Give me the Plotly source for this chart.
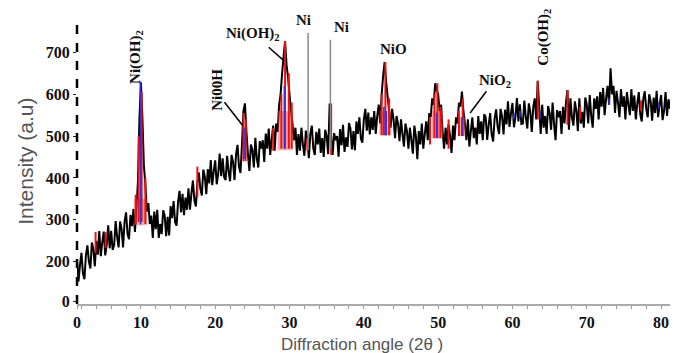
import plotly.graph_objects as go

# ---------------- data ----------------
x_start = 1.4
x_step = 0.2
intensity = [
    205, 153, 191, 221, 172, 158, 215, 239, 200, 184, 246, 230, 189, 250, 217, 273, 213, 246, 272, 215, 240, 287, 232, 274, 228,
    240, 297, 259, 234, 296, 278, 234, 295, 318, 266, 254, 312, 285, 326, 271, 330, 390, 540, 628, 545, 430, 385, 320, 340, 290,
    310, 257, 320, 278, 324, 257, 290, 266, 323, 310, 261, 307, 263, 333, 304, 345, 295, 286, 343, 369, 318, 362, 311, 353, 324,
    375, 324, 363, 394, 346, 332, 389, 413, 374, 358, 420, 403, 361, 421, 387, 443, 383, 416, 442, 385, 410, 458, 404, 447, 402,
    395, 453, 416, 392, 455, 438, 395, 456, 479, 427, 412, 480, 560, 578, 510, 458, 417, 480, 467, 425, 496, 446, 425, 488, 470,
    490, 438, 506, 470, 518, 455, 492, 525, 465, 530, 510, 575, 600, 650, 690, 727, 670, 640, 600, 560, 530, 490, 520, 455, 505,
    465, 520, 480, 453, 513, 493, 447, 505, 525, 470, 455, 510, 480, 518, 460, 495, 450, 515, 500, 457, 578, 498, 455, 507, 490,
    500, 451, 517, 478, 527, 462, 497, 474, 531, 518, 468, 512, 466, 535, 505, 545, 494, 484, 540, 565, 513, 556, 504, 545, 515,
    560, 505, 548, 575, 530, 600, 645, 677, 630, 595, 560, 520, 565, 540, 495, 548, 530, 488, 540, 505, 475, 530, 512, 470, 520,
    490, 458, 525, 500, 445, 512, 480, 530, 470, 505, 535, 490, 555, 545, 590, 575, 626, 610, 600, 560, 575, 510, 470, 520, 480,
    528, 500, 460, 525, 490, 545, 530, 580, 570, 606, 560, 530, 490, 540, 475, 512, 545, 495, 520, 480, 548, 505, 535, 490, 552,
    545, 491, 527, 555, 504, 487, 542, 564, 523, 505, 565, 547, 504, 563, 528, 583, 522, 554, 579, 521, 545, 591, 535, 576, 529,
    530, 585, 545, 518, 578, 558, 510, 570, 590, 540, 632, 570, 505, 575, 520, 548, 505, 572, 555, 515, 580, 528, 490, 562, 545,
    560, 505, 570, 530, 580, 610, 515, 590, 545, 525, 583, 560, 512, 590, 530, 558, 520, 592, 575, 530, 598, 548, 520, 590, 565,
    595, 540, 605, 570, 615, 550, 590, 620, 575, 662, 600, 620, 555, 608, 580, 545, 612, 570, 595, 540, 605, 575, 550, 612, 560,
    597, 540, 578, 605, 552, 535, 588, 607, 565, 545, 600, 582, 537, 592, 555, 608, 545, 575, 598, 538, 560, 605, 548, 588, 565,
]
angle = [x_start + x_step * i for i in range(len(intensity))]

# red peak sticks
red_x = [3.9, 5.25, 9.3, 9.7, 10.1, 10.6, 17.6, 23.8, 24.1, 27.8, 28.9, 29.4, 29.9, 30.3, 32.4,
         35.6, 42.4, 42.9, 43.4, 48.9, 49.5, 49.9, 50.3, 51.4, 52.8, 53.3, 63.4, 67.4, 69.1, 77.3]
red_base = [221, 233, 290, 295, 295, 290, 355, 440, 440, 465, 470, 470, 470, 470, 465,
            455, 502, 502, 502, 480, 495, 495, 495, 470, 500, 500, 540, 527, 540, 560]
red_top = [271, 271, 360, 500, 605, 400, 427, 555, 540, 520, 600, 727, 650, 580, 495,
           578, 600, 677, 590, 545, 600, 626, 570, 540, 560, 590, 632, 610, 570, 585]

# light red fills under main peaks
fill_x = [9.95, 29.4, 42.9, 49.9, 53.2]
fill_w = [1.7, 2.0, 1.6, 1.5, 1.0]
fill_base = [287, 466, 502, 495, 500]
fill_top = [350, 560, 560, 560, 545]

# blue sticks
blue_x = [9.95, 24.0, 29.3, 42.7, 43.0, 49.8, 53.2, 60.2, 61.0, 63.7, 73.0, 79.7]
blue_base = [289, 445, 470, 502, 502, 495, 500, 540, 545, 540, 575, 565]
blue_top = [630, 520, 620, 570, 560, 555, 545, 555, 560, 560, 590, 580]

# grey Ni reference lines
ni_x = [32.5, 35.5]
ni_base = [466, 470]
ni_top = [746, 730]

x_tickvals = [1.4, 10, 20, 30, 40, 50, 60, 70, 80]
x_ticktext = ["0", "10", "20", "30", "40", "50", "60", "70", "80"]
y_tickvals = [104.5, 200, 300, 400, 500, 600, 700]
y_ticktext = ["0", "200", "300", "400", "500", "600", "700"]


def sticks(xs, bases, tops):
    sx, sy = [], []
    for x, b, t in zip(xs, bases, tops):
        sx += [x, x, None]
        sy += [b, t, None]
    return sx, sy


def boxes(xs, ws, bases, tops):
    bx, by = [], []
    for x, w, b, t in zip(xs, ws, bases, tops):
        bx += [x - w / 2, x + w / 2, x + w / 2, x - w / 2, x - w / 2, None]
        by += [b, b, t, t, b, None]
    return bx, by


# ---------------- figure ----------------
fig = go.Figure()

fig.add_trace(go.Scatter(x=angle, y=intensity, mode="lines",
                         line=dict(color="black", width=2, simplify=False), hoverinfo="skip"))

fx, fy = boxes(fill_x, fill_w, fill_base, fill_top)
fig.add_trace(go.Scatter(x=fx, y=fy, mode="lines", fill="toself", fillcolor="rgba(235,70,70,0.45)",
                         line=dict(width=0), hoverinfo="skip"))
rx, ry = sticks(red_x, red_base, red_top)
fig.add_trace(go.Scatter(x=rx, y=ry, mode="lines", line=dict(color="#f01010", width=2), hoverinfo="skip"))
bx, by = sticks(blue_x, blue_base, blue_top)
fig.add_trace(go.Scatter(x=bx, y=by, mode="lines", line=dict(color="#3a2fd0", width=1.6), hoverinfo="skip"))
nx, ny = sticks(ni_x, ni_base, ni_top)
fig.add_trace(go.Scatter(x=nx, y=ny, mode="lines", line=dict(color="#8a8a8a", width=1.5), hoverinfo="skip"))

tick_font = dict(family="Liberation Serif", size=16, color="#111", weight="bold")
lab_font = dict(family="Liberation Serif", size=15, color="#111", weight="bold")

fig.update_layout(
    width=673, height=353, autosize=False,
    margin=dict(l=77, r=3, t=18, b=49),
    plot_bgcolor="white", paper_bgcolor="white",
    showlegend=False,
    xaxis=dict(range=[1.4, 81.2], tickmode="array", tickvals=x_tickvals, ticktext=x_ticktext,
               automargin=False,
               showgrid=False, zeroline=False, showline=True, linecolor="#aaaaaa", linewidth=1.5,
               ticks="outside", ticklen=3, tickcolor="#999", tickfont=tick_font,
               ticklabelstandoff=0,
               minor=dict(tickmode="array", tickvals=[2 * i for i in range(1, 41)],
                          ticks="outside", ticklen=3, tickcolor="#999")),
    yaxis=dict(range=[99, 782], tickmode="array", tickvals=y_tickvals, ticktext=y_ticktext,
               automargin=False,
               showgrid=False, zeroline=False, showline=False,
               ticks="outside", ticklen=3, tickcolor="#222", tickfont=tick_font,
               ticklabelstandoff=0),
)

# dashed left axis
fig.add_shape(type="line", xref="paper", yref="paper", x0=0, x1=0, y0=0, y1=1,
              line=dict(color="black", width=2.5, dash="dash"))

# axis titles
fig.add_annotation(text="Intensity (a.u)", xref="paper", yref="paper", x=-0.088, y=0.5,
                   xanchor="center", yanchor="middle",
                   textangle=-90, showarrow=False,
                   font=dict(family="Liberation Sans", size=21, color="#555"))
fig.add_annotation(text="Diffraction angle (2θ )", xref="paper", yref="paper", x=0.48, y=-0.143,
                   xanchor="center", yanchor="middle",
                   showarrow=False, font=dict(family="Liberation Sans", size=17, color="#555"))

# peak labels
labels = [
    ("Ni(OH)<sub>2</sub>", 9.41, 688, -90),
    ("Ni00H", 20.2, 610, -90),
    ("Ni(OH)<sub>2</sub>", 25.1, 744, 0),
    ("Ni", 31.9, 777, 0),
    ("Ni", 37.0, 760, 0),
    ("NiO", 44.0, 708, 0),
    ("NiO<sub>2</sub>", 57.6, 631, 0),
    ("Co(OH)<sub>2</sub>", 64.3, 736, -90),
]
for t, lx, ly, ang in labels:
    fig.add_annotation(text=t, x=lx, y=ly, textangle=ang, showarrow=False, font=lab_font,
                       xanchor="center", yanchor="middle")

# pointer lines
pointers = [((21.25, 581), (23.67, 526)), ((27.2, 712), (29.3, 679)), ((56.5, 607), (54.3, 555))]
for (x0, y0), (x1, y1) in pointers:
    fig.add_shape(type="line", x0=x0, y0=y0, x1=x1, y1=y1, line=dict(color="black", width=1.5))

fig.write_html("out.html", config={"displayModeBar": False},
               post_script="document.body.style.margin='0';")
